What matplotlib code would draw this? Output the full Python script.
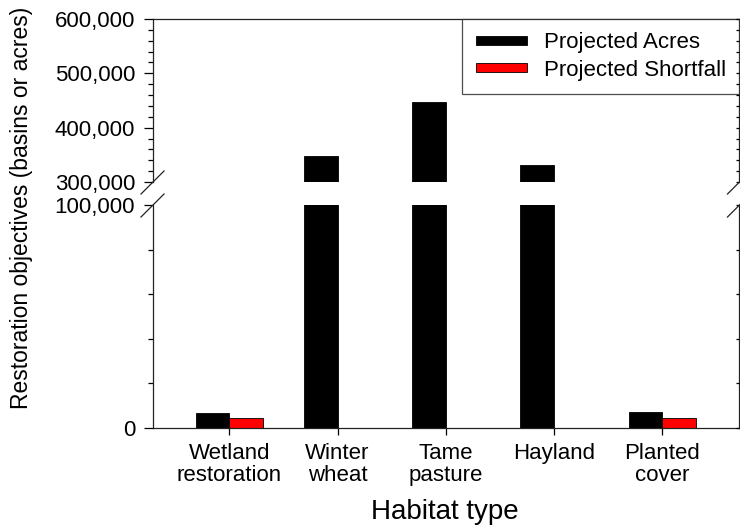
import matplotlib
matplotlib.use('Agg')
import matplotlib.pyplot as plt
import matplotlib.ticker as ticker
from matplotlib.lines import Line2D
import numpy as np

plt.rcParams['font.family'] = ['Liberation Sans', 'DejaVu Sans']

habitats = ['Wetland\nrestoration', 'Winter\nwheat', 'Tame\npasture', 'Hayland', 'Planted\ncover']
projected_acres = [6800, 348000, 447000, 331000, 7000]
projected_shortfall = [4600, 0, 0, 0, 4600]

W, H = 740, 529
fig = plt.figure(figsize=(W / 100, H / 100), dpi=100)

left, right = 152.5 / W, 739 / W
ax_top = fig.add_axes([left, 1 - 182 / H, right - left, (182 - 19) / H])
ax_bot = fig.add_axes([left, 1 - 428 / H, right - left, (428 - 205) / H])

x = np.arange(len(habitats))
bw = 0.31


def style(ax, lo, hi, major):
    ax.bar(x, projected_acres, width=-bw, align='edge', color='black',
           edgecolor='black', linewidth=0.6, label='Projected Acres')
    ax.bar(x, projected_shortfall, width=bw, align='edge', color='#ff0000',
           edgecolor='black', linewidth=0.6, label='Projected Shortfall')
    ax.set_xlim(-0.71, 4.71)
    ax.set_ylim(lo, hi)
    ax.set_yticks(major)
    for s in ax.spines.values():
        s.set_linewidth(0.9)
        s.set_color('#222222')
    ax.yaxis.set_major_formatter(ticker.StrMethodFormatter('{x:,.0f}'))
    ax.yaxis.set_minor_locator(ticker.MultipleLocator(20000))
    ax.tick_params(axis='y', which='major', direction='out', length=6.5,
                   width=0.9, labelsize=16, pad=6)
    ax.tick_params(axis='y', which='minor', direction='out', length=3.3, width=0.9)
    # right side ticks point inwards
    tw = ax.twinx()
    tw.set_ylim(lo, hi)
    tw.set_yticks(major)
    tw.yaxis.set_minor_locator(ticker.MultipleLocator(20000))
    tw.tick_params(axis='y', which='both', direction='in', length=2.2,
                   width=0.9, labelright=False)
    for s in tw.spines.values():
        s.set_visible(False)


style(ax_top, 300000, 600000, [300000, 400000, 500000, 600000])
style(ax_bot, 0, 100000, [0, 100000])

ax_top.spines['bottom'].set_visible(False)
ax_top.tick_params(axis='x', which='both', bottom=False, labelbottom=False)

ax_bot.spines['top'].set_visible(False)
ax_bot.set_xticks(x)
ax_bot.set_xticklabels(habitats, fontsize=16, linespacing=1.05)
ax_bot.tick_params(axis='x', direction='out', length=5, width=0.9, pad=6)

leg = ax_top.legend(loc='upper right', fontsize=16, frameon=True, fancybox=False,
                    borderaxespad=0, borderpad=0.6, handlelength=2.3,
                    handleheight=0.25, handletextpad=0.75, labelspacing=0.3)
leg.get_frame().set_edgecolor('#222222')
leg.get_frame().set_linewidth(0.9)
leg.set_zorder(10)

# axis break marks
d = 11.5
for px in (152.5, 739):
    for py in (182.5, 205.5):
        fig.add_artist(Line2D([(px - d) / W, (px + d) / W],
                              [1 - (py + d) / H, 1 - (py - d) / H],
                              color='#222222', linewidth=0.9, clip_on=False))

fig.text(22 / W, 1 - 208 / H, 'Restoration objectives (basins or acres)',
         rotation=90, ha='center', va='center', fontsize=16.5)
fig.text(445 / W, 1 - 519 / H, 'Habitat type', ha='center', va='baseline', fontsize=20)

fig.savefig('out.png', dpi=100)
